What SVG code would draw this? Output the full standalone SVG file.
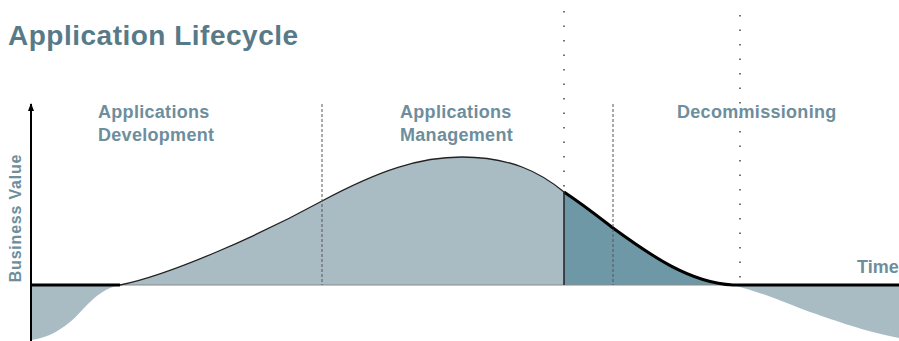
<svg xmlns="http://www.w3.org/2000/svg" width="899" height="341" viewBox="0 0 899 341">
<style>
.lbl{font-family:"Liberation Sans",Arial,sans-serif;font-weight:bold;font-size:18px;letter-spacing:0.3px;fill:#6d8e9c}
.title{font-family:"Liberation Sans",Arial,sans-serif;font-weight:bold;font-size:28px;letter-spacing:0.5px;fill:#587a88}
.dash{stroke:#555;stroke-width:1;stroke-dasharray:3,2;fill:none}
.dot{stroke:#444;stroke-width:1.5;stroke-dasharray:1.5,13;fill:none}
</style>
<defs>
<marker id="arr" markerWidth="8" markerHeight="6" refX="7" refY="3" orient="auto" markerUnits="userSpaceOnUse">
<path d="M0,0 L8,3 L0,6 Z" fill="#000"/>
</marker>
</defs>
<rect width="899" height="341" fill="#fff"/>
<g id="fills">
<path d="M120,285 C170,275 260,235 322,201 C380,170 420,157 462,157 C510,157 540,172 564,192 L564,285 Z" fill="#a9bcc4"/>
<path d="M564,192 C585,206 600,218 613,228 C650,255 690,283 733,285 L564,285 Z" fill="#6e98a6"/>
<path d="M31,285 L120,285 C95,290 85,310 70,322 C55,334 45,338 31,340 Z" fill="#a9bcc4"/>
<path d="M733,285 C770,295 790,305 810,312 C840,322 860,330 899,338 L899,285 Z" fill="#a9bcc4"/>
</g>
<g id="connectors">
<line x1="31" y1="285" x2="899" y2="285" stroke="#888" stroke-width="1"/>
<line x1="31" y1="341" x2="31" y2="104" stroke="#000" stroke-width="2" marker-end="url(#arr)"/>
<line x1="31" y1="285" x2="120" y2="285" stroke="#000" stroke-width="3"/>
<line x1="733" y1="285" x2="899" y2="285" stroke="#000" stroke-width="3"/>
<path d="M120,285 C170,275 260,235 322,201 C380,170 420,157 462,157 C510,157 540,172 564,192" fill="none" stroke="#222" stroke-width="1.3"/>
<path d="M564,192 C585,206 600,218 613,228 C650,255 690,283 733,285" fill="none" stroke="#000" stroke-width="3"/>
<line x1="564" y1="192" x2="564" y2="285" stroke="#222" stroke-width="1.5"/>
<line class="dash" x1="322" y1="104" x2="322" y2="285"/>
<line class="dash" x1="613" y1="104" x2="613" y2="285"/>
<line class="dot" x1="564" y1="11" x2="564" y2="192"/>
<line class="dot" x1="740" y1="15" x2="740" y2="285"/>
</g>
<g id="title"><text class="title" x="8" y="45">Application Lifecycle</text></g>
<g id="development"><text class="lbl" x="98" y="118">Applications</text><text class="lbl" x="98" y="141">Development</text></g>
<g id="management"><text class="lbl" x="400" y="118">Applications</text><text class="lbl" x="400" y="141">Management</text></g>
<g id="decommissioning"><text class="lbl" x="677" y="118">Decommissioning</text></g>
<g id="yaxis"><text class="lbl" transform="translate(21,218) rotate(-90)" text-anchor="middle" style="font-size:16px;letter-spacing:0.8px">Business Value</text></g>
<g id="xaxis"><text class="lbl" x="857" y="273" style="letter-spacing:0">Time</text></g>
</svg>
